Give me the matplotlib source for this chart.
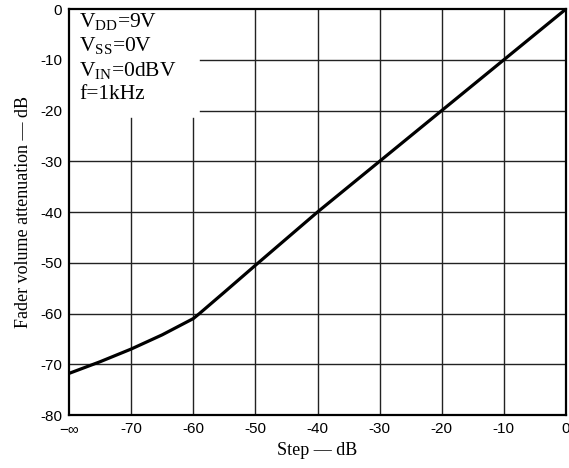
import matplotlib
matplotlib.use("Agg")
import matplotlib.pyplot as plt

plt.rcParams['mathtext.fontset'] = 'custom'
plt.rcParams['mathtext.rm'] = 'Liberation Serif'

# attenuation curve (step dB -> fader attenuation dB)
step = [-80, -75, -70, -65, -60, -59, -55, -50, -40, -30, -20, -10, 0]
atten = [-71.8, -69.5, -67.0, -64.2, -61.0, -60.0, -55.8, -50.5, -40.0, -30.0, -20.0, -10.0, 0.0]

xticks = [-80, -70, -60, -50, -40, -30, -20, -10, 0]
xlabels = ['\u2212\u221e', '-70', '-60', '-50', '-40', '-30', '-20', '-10', '0']
yticks = [-80, -70, -60, -50, -40, -30, -20, -10, 0]
ylabels = ['-80', '-70', '-60', '-50', '-40', '-30', '-20', '-10', '0']

conditions = [r'V$_{\mathrm{DD}}$=9V', r'V$_{\mathrm{SS}}$=0V',
              r'V$_{\mathrm{IN}}$=0dBV', 'f=1kHz']

fig = plt.figure(figsize=(5.69, 4.68), dpi=100)
ax = fig.add_axes([0.1213, 0.1132, 0.8734, 0.8675])

ax.set_xlim(-80, 0)
ax.set_ylim(-80, 0)
ax.set_xticks(xticks)
ax.set_xticklabels(xlabels, family=['Liberation Sans', 'DejaVu Sans'], fontsize=11)
ax.set_yticks(yticks)
ax.set_yticklabels(ylabels, family='Liberation Sans', fontsize=11)
ax.tick_params(length=0, pad=5)

# grid drawn as plain lines so the text block can sit in a clear corner
for x in xticks[1:-1]:
    top = -21.5 if x < -58.9 else 0
    ax.plot([x, x], [-80, top], color='#222222', linewidth=1.0, zorder=1)
for y in yticks[1:-1]:
    left = -58.9 if y > -21.5 else -80
    ax.plot([left, 0], [y, y], color='#222222', linewidth=1.0, zorder=1)

ax.plot(step, atten, color='black', linewidth=2.3, zorder=3,
        solid_capstyle='round', solid_joinstyle='round')

for i, s in enumerate(conditions):
    ax.text(0.02, 0.995 - i * 0.061, s, transform=ax.transAxes, ha='left', va='top',
            family='Liberation Serif', fontsize=15.5, zorder=4)

for sp in ax.spines.values():
    sp.set_linewidth(1.6)
    sp.set_zorder(5)

ax.set_xlabel('Step \u2014 dB', family='Liberation Serif', fontsize=13, labelpad=4)
ax.set_ylabel('Fader volume attenuation \u2014 dB', family='Liberation Serif',
              fontsize=13, labelpad=6)

fig.savefig('out.png', dpi=100)
